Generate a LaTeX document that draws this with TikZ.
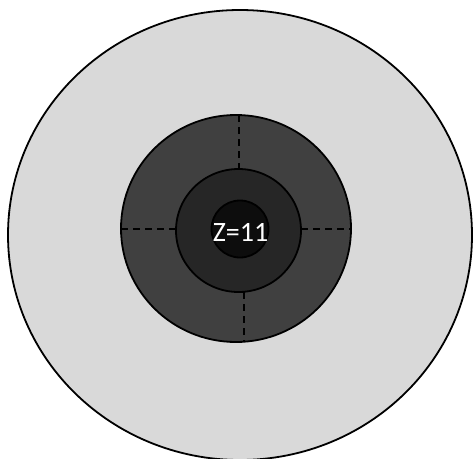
\documentclass[tikz,border=0pt]{standalone}
\usepackage{fontspec}
\setmainfont{Carlito}
\begin{document}
\begin{tikzpicture}[x=1pt,y=-1pt,
  ring/.style={draw=black,line width=1.8pt},
  divider/.style={draw=black,line width=1.8pt,dash pattern=on 7pt off 5pt}]
\useasboundingbox (0,0) rectangle (473,458);
\fill[white] (0,0) rectangle (473,458);
\definecolor{shellA}{HTML}{D9D9D9}
\definecolor{shellB}{HTML}{404040}
\definecolor{shellC}{HTML}{262626}
\definecolor{shellD}{HTML}{0D0D0D}
\draw[ring,fill=shellA] (240,235) ellipse [x radius=232, y radius=225];
\draw[ring,fill=shellB] (236,228.5) ellipse [x radius=115, y radius=113.5];
\draw[divider] (238.7,115) -- (238.7,169);
\draw[divider] (243.7,292) -- (243.7,342);
\draw[divider] (121,228.7) -- (176,228.7);
\draw[divider] (301,229) -- (351,229);
\draw[ring,fill=shellC] (238.5,230.5) ellipse [x radius=62.5, y radius=61.5];
\draw[ring,fill=shellD] (240,229) circle [radius=28.5];
\node[text=white,font=\fontsize{28}{32}\selectfont,inner sep=0pt] (label) at (240.5,232.5) {Z=11};
\end{tikzpicture}
\end{document}
